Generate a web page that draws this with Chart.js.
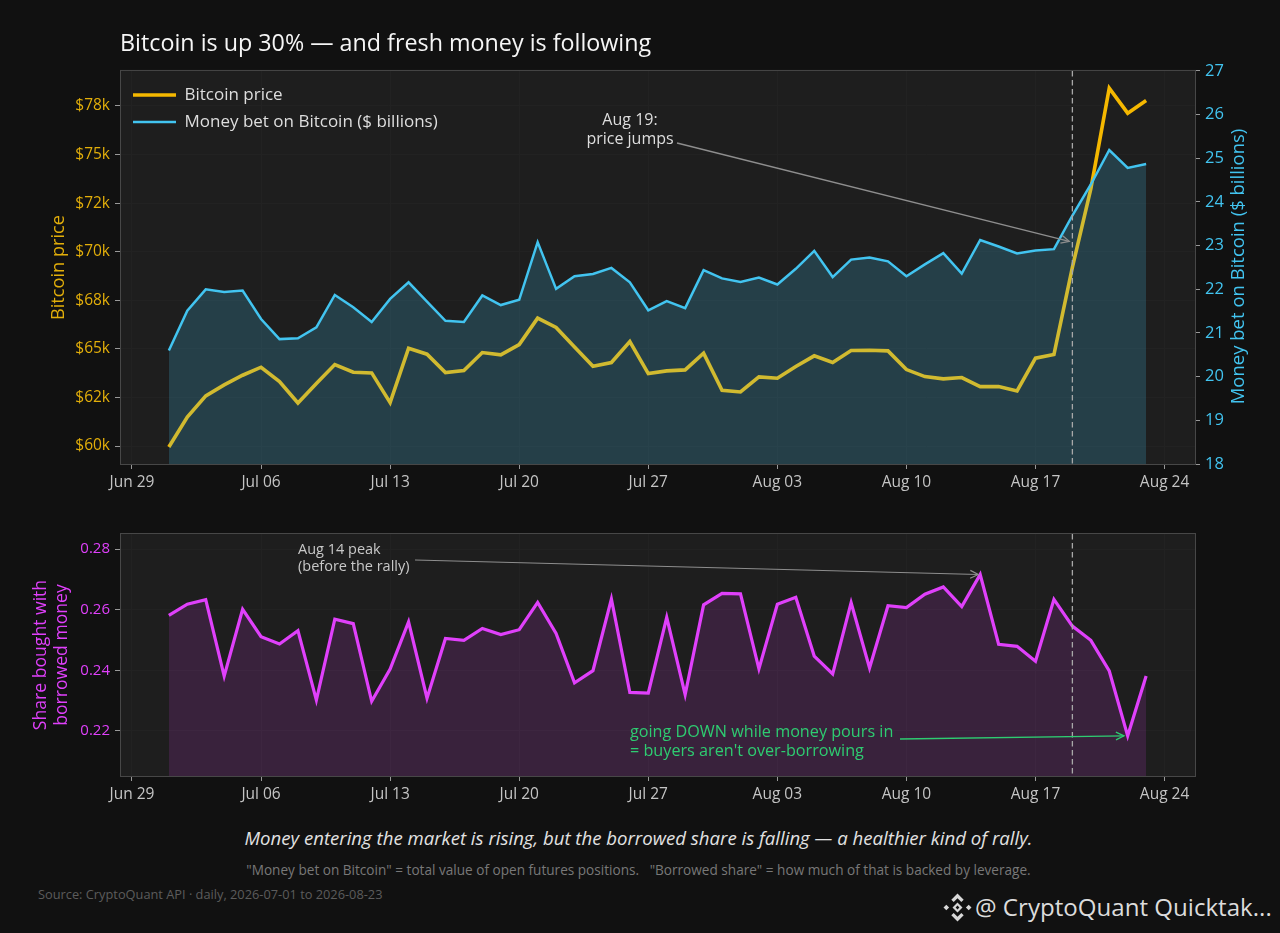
<!DOCTYPE html>
<html><head><meta charset="utf-8">
<script src="https://cdn.jsdelivr.net/npm/chart.js@4"></script>
<style>
html,body{margin:0;padding:0;background:#111111;width:1280px;height:933px;overflow:hidden}
canvas{position:absolute;left:0;display:block}
.t{position:absolute;white-space:nowrap;font-family:"Open Sans",sans-serif}
</style></head><body>
<canvas id="top" width="1280" height="500" style="top:0"></canvas>
<canvas id="bot" width="1280" height="310" style="top:500px"></canvas>
<div class="t" id="f1" style="left:0;width:1277px;text-align:center;top:826px;font-size:18.6px;font-style:italic;color:#e2e2e2;line-height:24px">Money entering the market is rising, but the borrowed share is falling — a healthier kind of rally.</div>
<div class="t" id="f2" style="left:0;width:1277px;text-align:center;top:861px;font-size:13.6px;color:#787878;line-height:18px">"Money bet on Bitcoin" = total value of open futures positions. &nbsp; "Borrowed share" = how much of that is backed by leverage.</div>
<div class="t" id="f3" style="left:38px;top:885px;font-size:12.8px;color:#5c5c5c;line-height:18px">Source: CryptoQuant API · daily, 2026-07-01 to 2026-08-23</div>
<svg style="position:absolute;left:943px;top:893px" width="29" height="29" viewBox="0 0 29 29" fill="#d8d8d8">
<path d="M14.5 0.5l6.2 6.2-2.4 2.4-3.8-3.8-3.8 3.8-2.4-2.4zM14.5 28.5l-6.2-6.2 2.4-2.4 3.8 3.8 3.8-3.8 2.4 2.4zM0.5 14.5l2.8-2.8 2.8 2.8-2.8 2.8zM22.9 14.5l2.8-2.8 2.8 2.8-2.8 2.8zM14.5 9.5l5 5-5 5-5-5zM14.5 12.6l-1.9 1.9 1.9 1.9 1.9-1.9z" fill-rule="evenodd"/></svg>
<div class="t" id="f4" style="left:975px;top:890px;font-size:24.1px;color:#dcdcdc;line-height:34px">@ CryptoQuant Quicktak...</div>
<script>
const dates = ["Jul 01","Jul 02","Jul 03","Jul 04","Jul 05","Jul 06","Jul 07","Jul 08","Jul 09","Jul 10","Jul 11","Jul 12","Jul 13","Jul 14","Jul 15","Jul 16","Jul 17","Jul 18","Jul 19","Jul 20","Jul 21","Jul 22","Jul 23","Jul 24","Jul 25","Jul 26","Jul 27","Jul 28","Jul 29","Jul 30","Jul 31","Aug 01","Aug 02","Aug 03","Aug 04","Aug 05","Aug 06","Aug 07","Aug 08","Aug 09","Aug 10","Aug 11","Aug 12","Aug 13","Aug 14","Aug 15","Aug 16","Aug 17","Aug 18","Aug 19","Aug 20","Aug 21","Aug 22","Aug 23"];
const price = [59950,61495,62577,63144,63642,64055,63316,62216,63213,64192,63797,63762,62233,65034,64725,63780,63883,64810,64690,65223,66580,66100,65100,64106,64295,65377,63730,63865,63917,64776,62870,62783,63556,63487,64089,64640,64295,64913,64930,64896,63934,63573,63453,63522,63058,63058,62835,64518,64707,69190,73230,78417,77128,77781];
const openInterest = [20.60,21.51,22.00,21.94,21.97,21.32,20.86,20.88,21.13,21.87,21.59,21.25,21.78,22.16,21.72,21.28,21.25,21.86,21.64,21.76,23.08,22.01,22.30,22.35,22.49,22.16,21.52,21.73,21.57,22.44,22.25,22.17,22.27,22.11,22.47,22.88,22.28,22.68,22.73,22.64,22.30,22.57,22.83,22.36,23.13,22.98,22.82,22.89,22.92,23.69,24.40,25.19,24.78,24.87];
const leverage = [.2581,.2618,.2633,.2381,.2601,.2511,.2487,.2531,.2302,.2569,.2554,.2298,.2404,.2560,.2308,.2505,.2499,.2538,.2518,.2534,.2624,.2522,.2359,.2399,.2635,.2327,.2325,.2575,.2320,.2616,.2654,.2652,.2405,.2618,.2641,.2447,.2388,.2623,.2408,.2613,.2607,.2651,.2675,.2610,.2716,.2486,.2479,.2430,.2634,.2546,.2499,.2398,.2184,.2381];
const xTickDays = [0,7,14,21,28,35,42,49,56];
const xTickLabels = ["Jun 29","Jul 06","Jul 13","Jul 20","Jul 27","Aug 03","Aug 10","Aug 17","Aug 24"];
const priceTicks = [60000,62500,65000,67500,70000,72500,75000,77500];
const priceTickLabels = ["$60k","$62k","$65k","$68k","$70k","$72k","$75k","$78k"];
const leverageTicks = [0.22,0.24,0.26,0.28];

const FONT = '"Open Sans", sans-serif';
const dayOf = i => i + 2;
const EVENT_DAY = dayOf(dates.indexOf("Aug 19"));
const pts = arr => arr.map((v,i)=>({x:dayOf(i),y:v}));
const xRange = {min:-0.65,max:57.65};
const C = {bg:'#111111',panel:'#1e1e1e',spine:'#474747',grid:'#222222',tick:'#c4c4c4',orange:'#f5b800',orangeTick:'#e2ae0a',blue:'#42c4f0',mag:'#e040fb',green:'#2ecc71'};

function xScale(h){return {type:'linear',...xRange,afterBuildTicks:s=>{s.ticks=xTickDays.map(v=>({value:v}))},
  afterFit:s=>{s.height=h},
  ticks:{autoSkip:false,maxRotation:0,minRotation:0,color:C.tick,font:{family:FONT,size:15.5},padding:4,callback:v=>xTickLabels[xTickDays.indexOf(v)]},
  grid:{color:C.grid,lineWidth:1,drawTicks:true,tickLength:5,tickColor:'#999'},border:{display:false}}}

function arrow(ctx,x1,y1,x2,y2,color,w){
  ctx.save();ctx.strokeStyle=color;ctx.lineWidth=w;ctx.beginPath();ctx.moveTo(x1,y1);ctx.lineTo(x2,y2);ctx.stroke();
  const a=Math.atan2(y2-y1,x2-x1),L=9,s=0.45;
  ctx.beginPath();ctx.moveTo(x2-L*Math.cos(a-s),y2-L*Math.sin(a-s));ctx.lineTo(x2,y2);ctx.lineTo(x2-L*Math.cos(a+s),y2-L*Math.sin(a+s));ctx.stroke();ctx.restore();
}
function text(ctx,lines,x,y,lh,size,color,align){
  ctx.save();ctx.font=size+'px '+FONT;ctx.fillStyle=color;ctx.textAlign=align;ctx.textBaseline='middle';
  lines.forEach((l,i)=>ctx.fillText(l,x,y+i*lh));ctx.restore();
}
const panel = {id:'panel',
  beforeDraw(c){const a=c.chartArea,g=c.ctx;g.save();g.fillStyle=C.panel;g.fillRect(a.left,a.top,a.right-a.left,a.bottom-a.top);g.restore();},
  afterDatasetsDraw(c){const a=c.chartArea,g=c.ctx,x=c.scales.x.getPixelForValue(EVENT_DAY);
    g.save();g.strokeStyle='#a8a8a8';g.lineWidth=1.3;g.setLineDash([5.5,3.5]);g.beginPath();g.moveTo(x,a.top);g.lineTo(x,a.bottom);g.stroke();g.restore();},
  afterDraw(c){const a=c.chartArea,g=c.ctx;g.save();g.strokeStyle=C.spine;g.lineWidth=1;g.strokeRect(a.left+.5,a.top-.5,a.right-a.left,a.bottom-a.top+1);g.restore();}
};
const topNotes = {id:'topNotes',afterDatasetsDraw(c){
  const g=c.ctx,X=c.scales.x,Y=c.scales.y1;
  text(g,['Aug 19:','price jumps'],630,120,19,16,'#dedede','center');
  arrow(g,677,143,X.getPixelForValue(EVENT_DAY-0.17),Y.getPixelForValue(23.1),'#8e8e8e',1.3);
  g.save();g.translate(1239,266.5);g.rotate(-Math.PI/2);
  text(g,['Money bet on Bitcoin ($ billions)'],0,0,0,18.5,C.blue,'center');g.restore();
}, afterLayout(c){c.legend.top=c.chartArea.top+5.5;c.legend.left+=3;}};
const botNotes = {id:'botNotes',afterDatasetsDraw(c){
  const g=c.ctx,X=c.scales.x,Y=c.scales.y;
  text(g,['Aug 14 peak','(before the rally)'],298,50,17,14.5,'#c8c8c8','left');
  arrow(g,415,60,X.getPixelForValue(dayOf(dates.indexOf("Aug 14"))-0.1),Y.getPixelForValue(0.2716),'#8e8e8e',1.2);
  text(g,['going DOWN while money pours in',"= buyers aren't over-borrowing"],630,232,19,16.2,C.green,'left');
  arrow(g,900,239,X.getPixelForValue(dayOf(dates.indexOf("Aug 22"))-0.2),Y.getPixelForValue(0.2184),C.green,1.3);
}};

new Chart(document.getElementById('top'),{type:'line',
  data:{datasets:[
    {label:'Bitcoin price',data:pts(price),yAxisID:'y',borderColor:C.orange,borderWidth:3.6,pointRadius:0,fill:false,order:2,tension:0},
    {label:'Money bet on Bitcoin ($ billions)',data:pts(openInterest),yAxisID:'y1',borderColor:C.blue,borderWidth:2.5,pointRadius:0,fill:'start',backgroundColor:'rgba(66,196,240,0.2)',order:1,tension:0}
  ]},
  plugins:[panel,topNotes],
  options:{responsive:false,animation:false,devicePixelRatio:1,
    layout:{padding:0},
    plugins:{
      tooltip:{enabled:false},
      title:{display:true,text:'Bitcoin is up 30% — and fresh money is following',align:'start',fullSize:false,color:'#f6f6f6',font:{family:FONT,size:23.3,weight:'normal',lineHeight:1.2},padding:{top:30,bottom:13}},
      legend:{position:'chartArea',align:'start',labels:{usePointStyle:true,pointStyleWidth:43,padding:10,color:'#dedede',font:{family:FONT,size:17},
        generateLabels:ch=>[...ch.data.datasets].map((d,i)=>({text:d.label,strokeStyle:d.borderColor,fillStyle:d.borderColor,lineWidth:d.borderWidth,pointStyle:'line',datasetIndex:i,fontColor:'#dedede'}))}}
    },
    scales:{
      x:xScale(36),
      y:{position:'left',min:59074,max:79301,afterBuildTicks:s=>{s.ticks=priceTicks.map(v=>({value:v}))},afterFit:s=>{s.width=120},
        title:{display:true,text:'Bitcoin price',color:C.orangeTick,font:{family:FONT,size:18.2,lineHeight:1.2},padding:{top:48,bottom:0}},
        ticks:{color:C.orangeTick,font:{family:FONT,size:15.5},padding:5,callback:v=>priceTickLabels[priceTicks.indexOf(v)]},
        grid:{color:C.grid,tickLength:5,tickColor:'#999'},border:{display:false}},
      y1:{position:'right',min:18,max:27,afterFit:s=>{s.width=85},
        ticks:{stepSize:1,color:C.blue,font:{family:FONT,size:16.5},padding:5},
        grid:{drawOnChartArea:false,tickLength:5,tickColor:'#999'},border:{display:false}}
    }}
});

new Chart(document.getElementById('bot'),{type:'line',
  data:{datasets:[{label:'Share bought with borrowed money',data:pts(leverage),borderColor:C.mag,borderWidth:3.2,pointRadius:0,fill:'start',backgroundColor:'rgba(224,64,251,0.14)',tension:0}]},
  plugins:[panel,botNotes],
  options:{responsive:false,animation:false,devicePixelRatio:1,
    layout:{padding:{top:34,right:85}},
    plugins:{tooltip:{enabled:false},legend:{display:false},title:{display:false}},
    scales:{
      x:xScale(34),
      y:{min:0.20516,max:0.28495,afterBuildTicks:s=>{s.ticks=leverageTicks.map(v=>({value:v}))},afterFit:s=>{s.width=120},
        title:{display:true,text:['Share bought with','borrowed money'],color:C.mag,font:{family:FONT,size:17.6,lineHeight:1.19},padding:{top:31,bottom:0}},
        ticks:{color:C.mag,font:{family:FONT,size:15},padding:5,callback:v=>v.toFixed(2)},
        grid:{color:C.grid,tickLength:5,tickColor:'#999'},border:{display:false}}
    }}
});
</script>
</body></html>
